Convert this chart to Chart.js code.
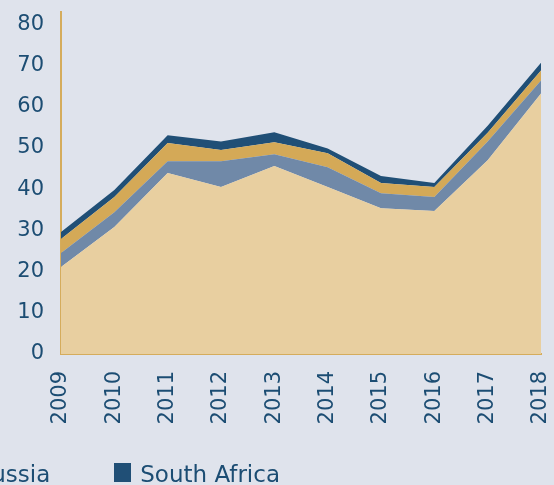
<!DOCTYPE html>
<html>
<head>
<meta charset="utf-8">
<script src="https://cdn.jsdelivr.net/npm/chart.js@4/dist/chart.umd.min.js"></script>
<style>
    html, body { margin: 0; padding: 0; background: #dfe3ec; overflow: hidden; }
    #wrap { position: relative; width: 554px; height: 485px; }
    #legend { position: absolute; top: 463px; right: 274px; display: flex; gap: 64px; white-space: nowrap;
        font-family: 'DejaVu Sans', sans-serif; font-size: 23px; line-height: 23px; color: #1c4d73; }
    #legend .item { display: flex; align-items: flex-start; flex-shrink: 0; }
    #legend .box { width: 17px; height: 19px; margin-right: 9px; }
</style>
</head>
<body>
<div id="wrap">
    <canvas id="chart" width="554" height="485"></canvas>
    <div id="legend"></div>
</div>
<script>
// ---- data ----
var years = ['2009', '2010', '2011', '2012', '2013', '2014', '2015', '2016', '2017', '2018'];
var seriesNames = ['China', 'India', 'Russia', 'South Africa'];
var china = [21.1, 30.8, 43.9, 40.5, 45.6, 40.5, 35.4, 34.7, 47.0, 63.2];
var india = [3.4, 3.6, 2.9, 6.3, 2.9, 4.8, 3.6, 3.4, 4.6, 3.2];
var russia = [3.4, 3.7, 4.4, 2.7, 2.9, 3.4, 2.5, 2.4, 2.1, 2.4];
var southAfrica = [1.7, 1.7, 1.9, 2.1, 2.4, 1.2, 1.7, 1.0, 1.7, 1.9];
var yTicks = [0, 10, 20, 30, 40, 50, 60, 70, 80];

var colors = ['#e8cfa0', '#7089a8', '#d4a957', '#204f76'];
var textColor = '#1c4d73';
var axisColor = '#d5ac5c';

Chart.defaults.font.family = "'DejaVu Sans', sans-serif";

function makeSet(i, values) {
    return {
        label: seriesNames[i],
        data: values,
        backgroundColor: colors[i],
        borderWidth: 0,
        pointRadius: 0,
        pointHoverRadius: 0,
        tension: 0,
        fill: i === 0 ? 'origin' : '-1'
    };
}

// keep the plot area where the reference has it, labels may overhang
function noOverhang(s) {
    s.paddingLeft = 0; s.paddingRight = 0; s.paddingTop = 0; s.paddingBottom = 0;
}

var chart = new Chart(document.getElementById('chart'), {
    type: 'line',
    data: {
        labels: years,
        datasets: [makeSet(0, china), makeSet(1, india), makeSet(2, russia), makeSet(3, southAfrica)]
    },
    options: {
        responsive: false,
        animation: false,
        layout: { padding: { top: 12, right: 13, bottom: 60, left: 0 } },
        plugins: { legend: { display: false }, tooltip: { enabled: false } },
        scales: {
            x: {
                stacked: true,
                offset: false,
                z: 1,
                grid: { display: false, drawTicks: false },
                border: { display: true, color: axisColor, width: 2 },
                ticks: { color: textColor, font: { size: 21 }, padding: 17, minRotation: 90, maxRotation: 90, autoSkip: false },
                afterFit: function(s) { s.height = 71; noOverhang(s); }
            },
            y: {
                stacked: true,
                min: 0,
                max: 83,
                z: 1,
                grid: { display: false, drawTicks: false },
                border: { display: true, color: axisColor, width: 2 },
                ticks: { color: textColor, font: { size: 21 }, padding: 17, stepSize: 10 },
                afterBuildTicks: function(s) {
                    s.ticks = yTicks.map(function(v) { return { value: v }; });
                },
                afterFit: function(s) { s.width = 61; noOverhang(s); }
            }
        }
    }
});

// html legend, same order as the datasets
var legendEl = document.getElementById('legend');
seriesNames.forEach(function(name, i) {
    var item = document.createElement('div');
    item.className = 'item';
    item.innerHTML = '<span class="box" style="background:' + colors[i] + '"></span><span>' + name + '</span>';
    legendEl.appendChild(item);
});
</script>
</body>
</html>
